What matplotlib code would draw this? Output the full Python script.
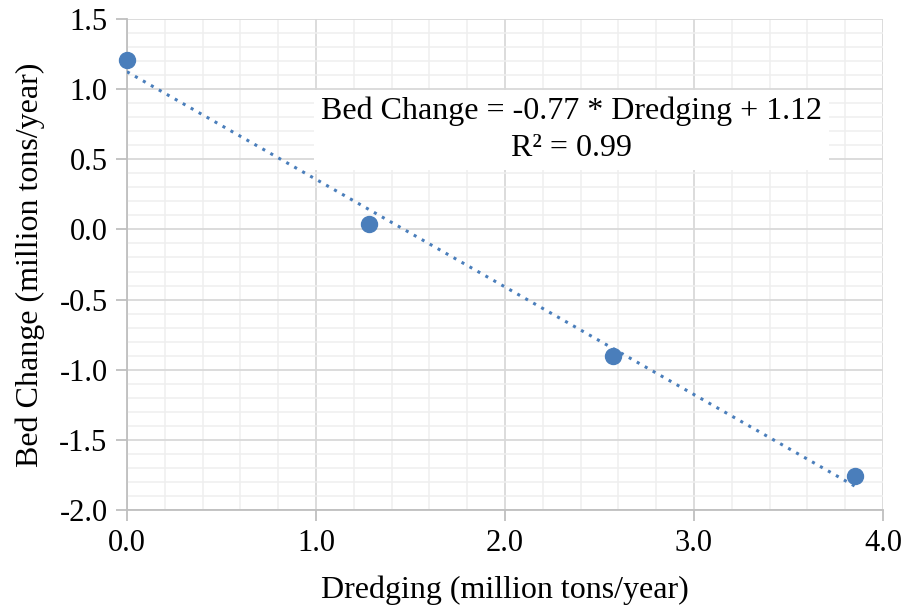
import matplotlib.pyplot as plt
import numpy as np

plt.rcParams['font.family'] = ['Liberation Serif', 'DejaVu Serif']

dredging = [0.0, 1.28, 2.57, 3.85]
bed_change = [1.21, 0.04, -0.90, -1.76]
eq_text = "Bed Change = -0.77 * Dredging + 1.12\nR² = 0.99"

blue = "#4a7ebb"

fig = plt.figure(figsize=(9.06, 6.13), dpi=100)
ax = fig.add_axes([127 / 906, 1 - 510 / 613, 756 / 906, 491 / 613])

# trendline (linear fit of the points)
coef = np.polyfit(dredging, bed_change, 1)
xs = np.array([dredging[0], dredging[-1]])
ax.plot(xs, np.polyval(coef, xs), linestyle=(0, (1, 2)), color=blue, lw=2.2, zorder=3)
ax.plot(dredging, bed_change, "o", color=blue, ms=11.5, zorder=4, clip_on=False)

ax.set_xlim(0, 4)
ax.set_ylim(-2, 1.5)
ax.set_xticks(np.arange(0, 4.01, 1.0))
ax.set_yticks(np.arange(-2, 1.51, 0.5))
ax.set_xticks(np.arange(0, 4.01, 0.2), minor=True)
ax.set_yticks(np.arange(-2, 1.51, 0.1), minor=True)
ax.set_xticklabels([f"{v:.1f}" for v in np.arange(0, 4.01, 1.0)])
ax.set_yticklabels([f"{v:.1f}" for v in np.arange(-2, 1.51, 0.5)])

ax.grid(which="major", color="#d9d9d9", lw=1.3)
ax.grid(which="minor", color="#efefef", lw=1.1)
ax.set_axisbelow(True)
for s in ["top", "right"]:
    ax.spines[s].set_visible(False)
for s in ["left", "bottom"]:
    ax.spines[s].set_color("#bfbfbf")
    ax.spines[s].set_linewidth(1.3)
ax.tick_params(which="major", length=8, color="#bfbfbf", width=1.3, labelsize=22, pad=6)
ax.tick_params(which="minor", length=0)

ax.set_xlabel("Dredging (million tons/year)", fontsize=23, labelpad=12)
ax.set_ylabel("Bed Change (million tons/year)", fontsize=23, labelpad=10)

ax.text(2.35, 0.71, eq_text, ha="center", va="center", fontsize=23, linespacing=1.35,
        bbox=dict(facecolor="white", edgecolor="none", pad=5), zorder=5)

fig.savefig("out.png", dpi=100)
